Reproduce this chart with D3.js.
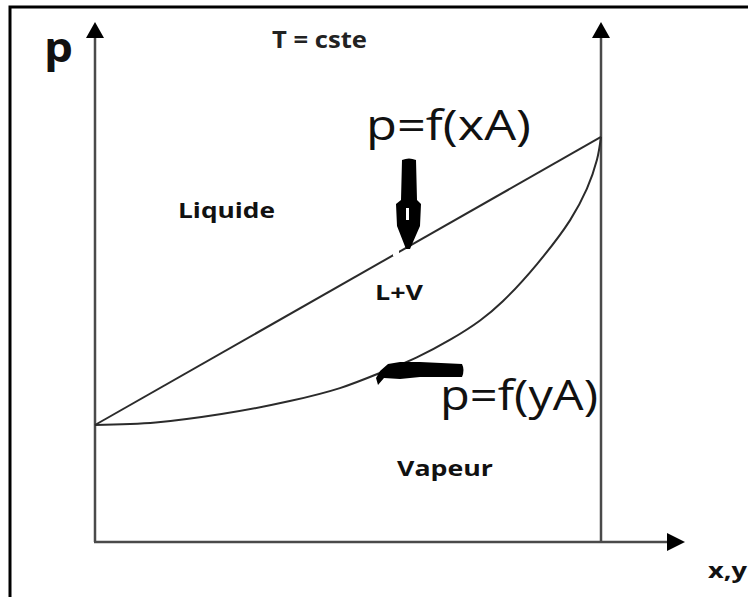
<!DOCTYPE html>
<html>
<head>
<meta charset="utf-8">
<title>Diagramme p-x,y</title>
<script src="https://d3js.org/d3.v7.min.js"></script>
<style>
  body { margin: 0; background: #fff; }
</style>
</head>
<body>
<script>
// composition (fraction molaire de A) et pression (unites arbitraires)
var liquidX = [0, 1];
var liquidP = [22.5, 77.9];
var vapourX = [0, 0.12, 0.25, 0.385, 0.484, 0.573, 0.636, 0.702, 0.761, 0.806, 0.874, 0.939, 0.972, 0.992, 1];
var vapourP = [22.5, 23.0, 24.6, 27.1, 29.6, 32.9, 35.5, 38.9, 42.6, 46.3, 53.5, 61.9, 67.9, 73.5, 77.9];

var width = 748, height = 597;

var svg = d3.select("body").append("svg")
    .attr("width", width)
    .attr("height", height);

// cadre
svg.append("rect")
    .attr("x", 10).attr("y", 7)
    .attr("width", 760).attr("height", 620)
    .attr("fill", "none")
    .attr("stroke", "#000")
    .attr("stroke-width", 3);

var x = d3.scaleLinear().domain([0, 1]).range([95, 601]);
var y = d3.scaleLinear().domain([0, 100]).range([542, 22]);

var axisColor = "#4a4a4a";

// axes
svg.append("line")
    .attr("x1", x(0)).attr("x2", x(0))
    .attr("y1", y(0)).attr("y2", y(100) + 12)
    .attr("stroke", axisColor).attr("stroke-width", 2.5);
svg.append("line")
    .attr("x1", x(1)).attr("x2", x(1))
    .attr("y1", y(0)).attr("y2", y(100) + 12)
    .attr("stroke", axisColor).attr("stroke-width", 2.5);
svg.append("line")
    .attr("x1", x(0) - 1).attr("x2", 672)
    .attr("y1", y(0)).attr("y2", y(0))
    .attr("stroke", axisColor).attr("stroke-width", 2.5);

// pointes de fleches
function upHead(cx, tip) {
    return "M" + cx + "," + tip + "L" + (cx + 9) + "," + (tip + 16) + "L" + (cx - 9) + "," + (tip + 16) + "Z";
}
svg.append("path").attr("d", upHead(x(0), y(100))).attr("fill", "#000");
svg.append("path").attr("d", upHead(x(1), y(100))).attr("fill", "#000");
svg.append("path")
    .attr("d", "M685," + y(0) + "L667," + (y(0) - 9) + "L667," + (y(0) + 9) + "Z")
    .attr("fill", "#000");

// courbes
var liquid = liquidX.map(function(d, i) { return [d, liquidP[i]]; });
var vapour = vapourX.map(function(d, i) { return [d, vapourP[i]]; });

var line = d3.line()
    .x(function(d) { return x(d[0]); })
    .y(function(d) { return y(d[1]); });

svg.append("path")
    .datum(liquid)
    .attr("fill", "none")
    .attr("stroke", "#2b2b2b")
    .attr("stroke-width", 2)
    .attr("d", line);

svg.append("path")
    .datum(vapour)
    .attr("fill", "none")
    .attr("stroke", "#2b2b2b")
    .attr("stroke-width", 2)
    .attr("d", line.curve(d3.curveCatmullRom.alpha(0.5)));

// petite coupure blanche dans la droite
svg.append("rect")
    .attr("x", 393).attr("y", 240)
    .attr("width", 6).attr("height", 16)
    .attr("fill", "#fff");

// fleche vers le bas (p=f(xA))
svg.append("path")
    .attr("d", "M402,160 Q409,157 416,160 L417,200 L421,204 L420,226 L410,249 L406,249 L397,226 L396,204 L401,200 Z")
    .attr("fill", "#000");
svg.append("rect")
    .attr("x", 406).attr("y", 208)
    .attr("width", 3).attr("height", 12)
    .attr("fill", "#fff");

// fleche vers la gauche (p=f(yA))
svg.append("path")
    .attr("d", "M462,364 Q465,370 462,377 L420,377 L400,379 L384,378 L378,385 L376,378 L380,371 L388,364 L400,362 L420,362 Z")
    .attr("fill", "#000");

// textes
function label(t, px, py, size, weight, len) {
    var el = svg.append("text")
        .attr("x", px).attr("y", py)
        .style("font-family", "'Open Sans', 'DejaVu Sans', sans-serif")
        .style("font-size", size + "px")
        .style("font-weight", weight)
        .attr("fill", "#111")
        .text(t);
    if (len) el.attr("textLength", len).attr("lengthAdjust", "spacingAndGlyphs");
    return el;
}

label("p", 44, 62, 42, 700, 29);
label("T = cste", 272, 48, 23, 700, 95).attr("fill", "#222");
label("p=f(xA)", 366, 140, 42, 500, 165);
label("p=f(yA)", 440, 410, 42, 500, 158);
label("Liquide", 178, 218, 21, 700, 97);
label("L+V", 375, 300, 21, 700, 48);
label("Vapeur", 397, 476, 21, 700, 96);
label("x,y", 708, 578, 21, 700, 39);
</script>
</body>
</html>
